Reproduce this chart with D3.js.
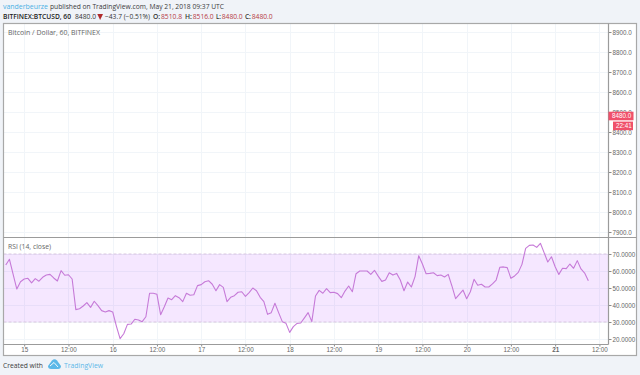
<!DOCTYPE html>
<html><head><meta charset="utf-8">
<script src="https://cdn.jsdelivr.net/npm/d3@7"></script>
<style>
html,body{margin:0;padding:0;background:#f0f3f8;overflow:hidden}
svg{display:block}
text{font-family:"Open Sans",sans-serif}
.tick text{font-family:"Liberation Sans",Arial,sans-serif;font-size:6.3px;fill:#666}
</style></head><body>
<svg id="c" width="640" height="375"></svg>
<script>
// Hourly RSI readings, first point is 14 May 19:00 (hours counted from 15 May 00:00)
const startHour = -5;
const rsiValues = [63.5,66.9,58,49.4,53.7,55.3,55.7,53,55.5,54,56.3,57.6,58,55.9,54.1,60.2,57.5,57.8,55.3,37.3,37.8,39.4,41.4,38.6,42.2,39.6,
36.7,35.9,36.7,35.9,27.6,20.2,23.1,28.6,28.8,31.6,31.2,30.2,33.1,46.9,46.9,46.3,34.3,39,44.1,43.1,45.5,44.3,42,46.9,45.7,46,51.4,
52,53.7,54.3,52.2,48.4,52,50.4,42,44.5,45.5,47.5,47.8,45.1,47.3,50,48.4,44.5,42,34.5,35.5,41,35.5,30.2,29.2,23.9,27.3,29.2,
29.4,32.4,35.5,30.2,45.3,48.6,46.9,49.6,47.3,47.5,46.7,44.3,48.2,51.2,47.8,58.4,60,60,60,58,60.4,57,53.9,54.7,59,57.6,58.6,
54.7,48.4,53.5,50.6,56.7,69,64.1,58.4,58.6,59,57.3,57.6,56.5,58,51.2,43.7,46.3,48.8,43.7,47.8,55.1,51.6,52.2,50.6,50.6,52.4,54.7,62.2,
62.4,62,55.7,57.1,59.2,63.9,73.3,75.1,75.3,73.9,76.3,70.8,65.3,68.4,62.5,58,61.6,61.4,64.1,61.6,66.1,61.2,58.8,54.3];
const priceTicks = [7900,8000,8100,8200,8300,8400,8500,8600,8700,8800,8900];
const rsiTicks = [20,30,40,50,60,70];
const rsiBand = [30,70];
const timeHours = [0,12,24,36,48,60,72,84,96,108,120,132,144,156];
const timeLabels = ["15","12:00","16","12:00","17","12:00","18","12:00","19","12:00","20","12:00","21","12:00"];
const lastPrice = 8480;
const lastCountdown = "22:41";
const ohlc = [["O:","8510.8"],["H:","8516.0"],["L:","8480.0"],["C:","8480.0"]];

const L=3.5,R=636.5,T=23.5,B=355.5,AX=608.5,DIV=237.5,TB=344.5;
const svg=d3.select("#c");
const x=d3.scaleLinear().domain([0,156]).range([24.2,599.4]);
const yP=d3.scaleLinear().domain([7900,8900]).range([232,32]);
const yR=d3.scaleLinear().domain([30,70]).range([322,254]);

svg.append("rect").attr("x",L).attr("y",T).attr("width",R-L).attr("height",B-T).attr("fill","#fff");

// grid
const g=svg.append("g").attr("stroke","#f1f5f9").attr("stroke-width",1);
g.selectAll(".gv").data(timeHours).join("line").attr("x1",d=>Math.round(x(d))+.5).attr("x2",d=>Math.round(x(d))+.5).attr("y1",T).attr("y2",TB);
g.selectAll(".gp").data(priceTicks).join("line").attr("x1",L).attr("x2",AX).attr("y1",d=>Math.round(yP(d))+.5).attr("y2",d=>Math.round(yP(d))+.5);
g.selectAll(".gr").data(rsiTicks).join("line").attr("x1",L).attr("x2",AX).attr("y1",d=>Math.round(yR(d))+.5).attr("y2",d=>Math.round(yR(d))+.5);

// RSI band
svg.append("rect").attr("x",L).attr("width",AX-L).attr("y",yR(rsiBand[1])).attr("height",yR(rsiBand[0])-yR(rsiBand[1])).attr("fill","#9915ff").attr("fill-opacity",.1);
svg.selectAll(".bl").data(rsiBand).join("line").attr("x1",L).attr("x2",AX).attr("y1",d=>yR(d)).attr("y2",d=>yR(d))
  .attr("stroke","#d9c7e0").attr("stroke-width",1).attr("stroke-dasharray","3 2");

// RSI line
svg.append("path").datum(rsiValues).attr("fill","none").attr("stroke","#c67ad8").attr("stroke-width",1.1).attr("stroke-linejoin","round")
  .attr("d",d3.line().x((d,i)=>x(startHour+i)).y(d=>yR(d)));

// axes
const pa=svg.append("g").attr("transform",`translate(${AX},0)`).call(d3.axisRight(yP).tickValues(priceTicks).tickSize(3).tickPadding(1).tickFormat(d3.format(".1f")));
const ra=svg.append("g").attr("transform",`translate(${AX},0)`).call(d3.axisRight(yR).tickValues(rsiTicks).tickSize(3).tickPadding(1).tickFormat(d3.format(".4f")));
const ta=svg.append("g").attr("transform",`translate(0,${TB})`).call(d3.axisBottom(x).tickValues(timeHours).tickSize(2).tickPadding(1).tickFormat((d,i)=>timeLabels[i]));
[pa,ra,ta].forEach(a=>{a.select(".domain").remove();a.selectAll(".tick line").attr("stroke","#8a8a8a");});
ta.selectAll(".tick text").attr("font-weight",(d,i)=>timeLabels[i]==="21"?"bold":null).attr("y",3.5);

// frame
const f=svg.append("g").attr("stroke","#9b9b9b").attr("fill","none").attr("stroke-width",1.2);
f.append("rect").attr("x",L).attr("y",T).attr("width",R-L).attr("height",B-T).attr("stroke","#a8a8a8");
f.append("line").attr("x1",AX).attr("x2",AX).attr("y1",T).attr("y2",TB);
f.append("line").attr("x1",L).attr("x2",R).attr("y1",DIV).attr("y2",DIV);
f.append("line").attr("x1",L).attr("x2",AX).attr("y1",TB).attr("y2",TB);

// last price tags
const ly=yP(lastPrice);
svg.append("rect").attr("x",AX).attr("y",ly-4.3).attr("width",25).attr("height",8.6).attr("fill","#f0506a");
svg.append("rect").attr("x",613).attr("y",ly+5.6).attr("width",20).attr("height",8.6).attr("fill","#f0506a");
function t(x,y,s,o={}){const e=svg.append("text").attr("x",x).attr("y",y).text(s).attr("font-size",o.size||8).attr("fill",o.fill||"#333");
 if(o.weight)e.attr("font-weight",o.weight); if(o.font)e.style("font-family",o.font); if(o.len)e.attr("textLength",o.len).attr("lengthAdjust","spacingAndGlyphs"); return e;}
const sans='"Liberation Sans",Arial,sans-serif';
t(612,ly+2.3,d3.format(".1f")(lastPrice),{size:6.3,fill:"#fff",font:sans});
t(616,ly+12.2,lastCountdown,{size:6.3,fill:"#fff",font:sans});

// header
t(3,9,"vanderbeurze",{fill:"#4ab0e4",len:45});
t(50,9,"published on TradingView.com, May 21, 2018 09:37 UTC",{fill:"#3a3a3a",len:174});
t(3,18.5,"BITFINEX:BTCUSD, 60",{weight:"600",fill:"#222",len:68,size:7.6});
t(75,18.5,d3.format(".1f")(lastPrice),{fill:"#333",len:21,size:7.4});
svg.append("path").attr("d",d3.line()([[97.3,14],[103,14],[100.1,20]])+"Z").attr("fill","#b02a2a");
t(105,18.5,"\u221243.7 (\u22120.51%)",{fill:"#333",len:45,size:7});
const ohlcPos=[[153,161],[185,192.7],[216,221.7],[245,251.7]];
ohlc.forEach((d,i)=>{
  t(ohlcPos[i][0],18.5,d[0],{fill:"#333",weight:"600",size:6.6,len:ohlcPos[i][1]-ohlcPos[i][0]-.8});
  t(ohlcPos[i][1],18.5,d[1],{fill:"#b5393f",len:21,size:7.4});
});
t(8,35,"Bitcoin / Dollar, 60, BITFINEX",{fill:"#666",len:92});
t(8,249,"RSI (14, close)",{fill:"#666",len:43});

// footer
t(3,368,"Created with",{fill:"#3a3a3a",len:40});
t(64,368,"TradingView",{fill:"#5cb8e8",len:39});
svg.append("path").attr("fill","#5cb8e8").attr("d","M48 366 L52 360.5 Q54.5 358 57 360.5 L61 366 Q61 369 58 369 L51 369 Q48 369 48 366Z");
svg.append("path").attr("fill","none").attr("stroke","#fff").attr("stroke-width",.9).attr("d","M50 366 L54 362.5 L58 367");
</script>
</body></html>
